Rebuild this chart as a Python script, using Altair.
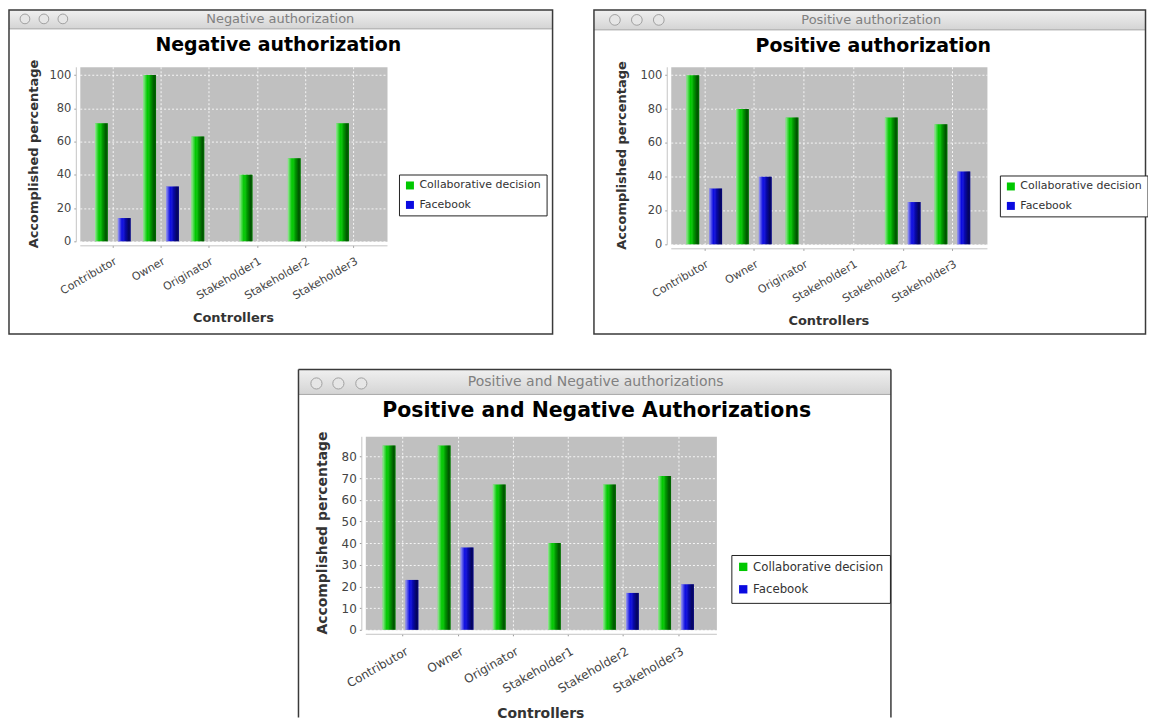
import altair as alt
import pandas as pd

# ---------------- data ----------------
categories = ["Contributor", "Owner", "Originator", "Stakeholder1", "Stakeholder2", "Stakeholder3"]
series = ["Collaborative decision", "Facebook"]

neg_collab = [71, 100, 63, 40, 50, 71]
neg_facebook = [14, 33, 0, 0, 0, 0]

pos_collab = [100, 80, 75, 0, 75, 71]
pos_facebook = [33, 40, 0, 0, 25, 43]

both_collab = [85, 85, 67, 40, 67, 71]
both_facebook = [23, 38, 0, 0, 17, 21]

ticks_100 = [0, 20, 40, 60, 80, 100]
ticks_80 = [0, 10, 20, 30, 40, 50, 60, 70, 80]

window_titles = ["Negative authorization", "Positive authorization", "Positive and Negative authorizations"]
chart_titles = ["Negative authorization", "Positive authorization", "Positive and Negative Authorizations"]
x_title = "Controllers"
y_title = "Accomplished percentage"

series_colors = ["#00c800", "#0a0ae0"]

FONT = "DejaVu Sans"

SHADE = alt.LinearGradient(
    gradient="linear", x1=0, x2=1, y1=0, y2=0,
    stops=[
        alt.GradientStop(color="rgba(255,255,255,0.6)", offset=0),
        alt.GradientStop(color="rgba(255,255,255,0.3)", offset=0.15),
        alt.GradientStop(color="rgba(255,255,255,0.0)", offset=0.32),
        alt.GradientStop(color="rgba(0,0,0,0.2)", offset=0.55),
        alt.GradientStop(color="rgba(0,0,0,0.58)", offset=0.85),
        alt.GradientStop(color="rgba(0,0,0,0.45)", offset=1),
    ],
)

TITLEBAR = alt.LinearGradient(
    gradient="linear", x1=0, x2=0, y1=0, y2=1,
    stops=[
        alt.GradientStop(color="#f0f0f0", offset=0),
        alt.GradientStop(color="#d4d4d4", offset=1),
    ],
)

PLOT_VIEW = alt.ViewBackground(fill="#c0c0c0", stroke="#868686", strokeWidth=1)


def one(text=""):
    return pd.DataFrame({"t": [text]})


def panel(collab, facebook, ticks, ymax, window_title, chart_title, g):
    x0, y0, w, h = g["plot"]
    L, T, R, B = g["frame"]

    def rx(px):
        return px - x0

    def ry(py):
        return py - y0

    data = pd.DataFrame({
        "Controller": categories + categories,
        "Series": [series[0]] * len(categories) + [series[1]] * len(categories),
        "Value": list(collab) + list(facebook),
    })

    layers = []

    # window title bar
    layers.append(
        alt.Chart(one()).mark_rect(fill=TITLEBAR).encode(
            x=alt.value(rx(L)), x2=alt.value(rx(R)),
            y=alt.value(ry(T)), y2=alt.value(ry(g["bar_bottom"])))
    )
    layers.append(
        alt.Chart(one()).mark_rule(color="#a8a8a8", strokeWidth=1).encode(
            x=alt.value(rx(L)), x2=alt.value(rx(R)),
            y=alt.value(ry(g["bar_bottom"])))
    )
    # window frame
    if g.get("open_bottom"):
        for xa, xb, ya, yb in [(L, L, T, B), (R, R, T, B), (L, R, T, T)]:
            layers.append(
                alt.Chart(one()).mark_rule(color="#3a3a3a", strokeWidth=1.5).encode(
                    x=alt.value(rx(xa)), x2=alt.value(rx(xb)),
                    y=alt.value(ry(ya)), y2=alt.value(ry(yb)))
            )
    else:
        layers.append(
            alt.Chart(one()).mark_rect(filled=False, stroke="#3a3a3a", strokeWidth=1.5).encode(
                x=alt.value(rx(L)), x2=alt.value(rx(R)),
                y=alt.value(ry(T)), y2=alt.value(ry(B)))
        )
    # window buttons
    for cx in g["circles"]:
        layers.append(
            alt.Chart(one()).mark_circle(size=g["circle_size"], color="#e6e6e6", opacity=1,
                                         stroke="#a0a0a0", strokeWidth=1).encode(
                x=alt.value(rx(cx)), y=alt.value(ry(g["circle_y"])))
        )
    # window title
    layers.append(
        alt.Chart(one(window_title)).mark_text(font=FONT, fontSize=g["wfont"], color="#808080",
                                               align="center", baseline="middle").encode(
            x=alt.value(rx(g["wtitle"][0])), y=alt.value(ry(g["wtitle"][1])), text="t:N")
    )
    # chart title
    layers.append(
        alt.Chart(one(chart_title)).mark_text(font=FONT, fontSize=g["tfont"], fontWeight="bold",
                                              color="#000000", align="center", baseline="middle").encode(
            x=alt.value(rx(g["title"][0])), y=alt.value(ry(g["title"][1])), text="t:N")
    )
    # axis titles
    layers.append(
        alt.Chart(one(y_title)).mark_text(font=FONT, fontSize=g["afont"], fontWeight="bold",
                                          color="#333333", angle=270, align="center",
                                          baseline="middle").encode(
            x=alt.value(rx(g["ytitle_x"])), y=alt.value(h / 2), text="t:N")
    )
    layers.append(
        alt.Chart(one(x_title)).mark_text(font=FONT, fontSize=g["afont"], fontWeight="bold",
                                          color="#333333", align="center", baseline="middle").encode(
            x=alt.value(w / 2), y=alt.value(ry(g["xtitle_y"])), text="t:N")
    )

    x_enc = alt.X(
        "Controller:N", sort=categories, title=None,
        scale=alt.Scale(domain=categories, paddingInner=0.26, paddingOuter=0.315),
        axis=alt.Axis(offset=4, bandPosition=0.5, domainColor="#c4c4c4", tickColor="#9a9a9a",
                      tickSize=2, labelAngle=-30, labelAlign="right", labelBaseline="middle",
                      labelPadding=g["catpad"], labelOffset=g["catoff"], labelColor="#444444",
                      labelFont=FONT, labelFontSize=g["catfont"], labelOverlap=False,
                      grid=True, gridColor="#ffffff", gridDash=[2, 2], gridOpacity=0.85),
    )
    xo_enc = alt.XOffset(
        "Series:N", sort=series,
        scale=alt.Scale(domain=series, paddingInner=0.44, paddingOuter=0),
    )
    y_enc = alt.Y(
        "Value:Q", title=None,
        scale=alt.Scale(domain=[0, ymax], nice=False, zero=True),
        axis=alt.Axis(values=ticks, offset=4, domainColor="#c4c4c4", tickColor="#9a9a9a",
                      tickSize=2, labelColor="#444444", labelFont=FONT,
                      labelFontSize=g["tickfont"], labelPadding=3,
                      grid=True, gridColor="#ffffff", gridDash=[2, 2], gridOpacity=0.85),
    )
    color_enc = alt.Color(
        "Series:N", sort=series,
        scale=alt.Scale(domain=series, range=series_colors),
        legend=alt.Legend(title=None, orient="none",
                          legendX=rx(g["legend"][0]), legendY=ry(g["legend"][1]),
                          fillColor="#ffffff", strokeColor="#222222",
                          padding=g["lpad"], rowPadding=g["lrow"], cornerRadius=0,
                          symbolType="square", symbolSize=g["lsym"], symbolStrokeWidth=0,
                          labelFont=FONT, labelFontSize=g["lfont"], labelColor="#333333",
                          labelOffset=4, labelLimit=300),
    )

    bars = alt.Chart(data).mark_bar().encode(x=x_enc, xOffset=xo_enc, y=y_enc, color=color_enc)
    shade = alt.Chart(data).mark_bar(fill=SHADE).encode(x=x_enc, xOffset=xo_enc, y=y_enc)

    layers += [bars, shade]
    return alt.layer(*layers).properties(width=w, height=h, view=PLOT_VIEW)


G1 = dict(plot=(79, 65, 308, 175), frame=(8, 8, 553, 333), bar_bottom=27,
          circles=[24, 43, 62], circle_y=17, circle_size=95,
          wtitle=(280, 17.5), wfont=13, title=(278, 43), tfont=19,
          ytitle_x=33, xtitle_y=317, afont=13,
          legend=(399, 173), lpad=5.5, lrow=7.5, lsym=64, lfont=11,
          tickfont=11.5, catfont=11, catpad=13, catoff=3)

G2 = dict(plot=(671, 65, 317, 178), frame=(594, 8, 1147, 333), bar_bottom=28,
          circles=[615, 637, 659], circle_y=18, circle_size=115,
          wtitle=(872, 18), wfont=13, title=(874, 44), tfont=19,
          ytitle_x=622, xtitle_y=320, afont=13,
          legend=(1001, 174), lpad=5.5, lrow=7.5, lsym=64, lfont=11,
          tickfont=11.5, catfont=11, catpad=13, catoff=3)

G3 = dict(plot=(365, 435, 352, 194), frame=(298, 368, 892, 717), bar_bottom=393,
          open_bottom=True,
          circles=[316, 338, 361], circle_y=382, circle_size=125,
          wtitle=(596, 381), wfont=14, title=(597, 410), tfont=20.5,
          ytitle_x=323, xtitle_y=713, afont=14,
          legend=(732, 554), lpad=6, lrow=9.5, lsym=70, lfont=11.8,
          tickfont=12, catfont=12, catpad=14, catoff=4)

p1 = panel(neg_collab, neg_facebook, ticks_100, 105, window_titles[0], chart_titles[0], G1)
p2 = panel(pos_collab, pos_facebook, ticks_100, 105, window_titles[1], chart_titles[1], G2)
p3 = panel(both_collab, both_facebook, ticks_80, 89.25, window_titles[2], chart_titles[2], G3)

# empty spacer that pushes the bottom window towards the middle
# (cells of a column share their plot origin: chart 3 origin must be 365-79=286 px right of chart 1's)
stroke_half = 0.75
spacer_width = 200
spacer_gap = (G3["plot"][0] - G1["plot"][0]) - (G3["plot"][0] - G3["frame"][0] + stroke_half) - spacer_width
spacer = alt.Chart(one()).mark_rule(strokeOpacity=0).encode(
    x=alt.value(0), y=alt.value(0), y2=alt.value(1)
).properties(width=spacer_width, height=1,
             view=alt.ViewBackground(fillOpacity=0, strokeOpacity=0))

row1 = alt.hconcat(p1, p2, spacing=39.5).resolve_scale(color="independent").resolve_legend(color="independent")
row2 = alt.hconcat(spacer, p3, spacing=spacer_gap).resolve_scale(color="independent").resolve_legend(color="independent")

chart = (
    alt.vconcat(row1, row2, spacing=33.5)
    .resolve_scale(color="independent")
    .resolve_legend(color="independent")
    .properties(padding=0, background="white")
    .configure_view(strokeOpacity=0)
)

chart.save("out.html", embed_options={"renderer": "svg", "actions": False})
